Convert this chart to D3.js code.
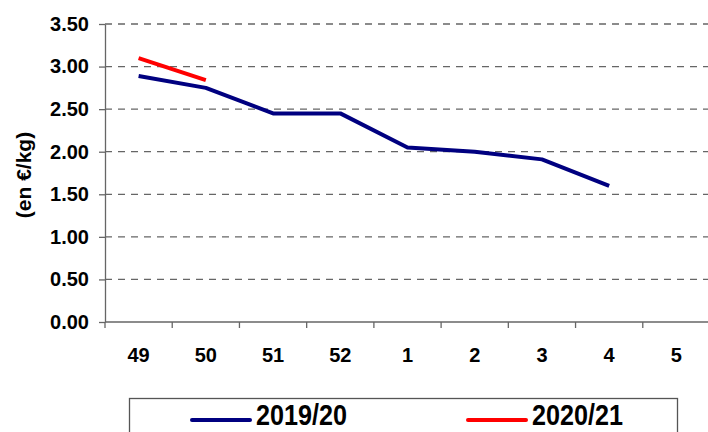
<!DOCTYPE html>
<html>
<head>
<meta charset="utf-8">
<script src="https://cdn.jsdelivr.net/npm/d3@7"></script>
<style>
  body { margin: 0; background: #fff; }
  text { font-family: "Liberation Sans", Arial, sans-serif; font-weight: bold; }
</style>
</head>
<body>
<svg id="drawing_region"></svg>
<script>
const weeks = ['49', '50', '51', '52', '1', '2', '3', '4', '5'];
const values_2019 = [2.89, 2.75, 2.45, 2.45, 2.05, 2.00, 1.91, 1.60];
const values_2020 = [3.10, 2.84];
const yticks = [0, 0.5, 1, 1.5, 2, 2.5, 3, 3.5];
const series_names = ['2019/20', '2020/21'];
const series_colors = ['#000080', '#ff0000'];

const config = {
    width: 708,
    height: 432,
    margin: {top: 24, right: -2, bottom: 110, left: 105}
};

const svg = d3.select('#drawing_region')
    .attr('width', config.width)
    .attr('height', config.height);

const chart = svg.append('g')
    .attr('transform', `translate(${config.margin.left}, ${config.margin.top})`);

const inner_width = config.width - config.margin.left - config.margin.right;
const inner_height = config.height - config.margin.top - config.margin.bottom;

const xscale = d3.scaleBand()
    .domain(weeks)
    .range([0, inner_width]);

const yscale = d3.scaleLinear()
    .domain([0, 3.5])
    .range([inner_height, 0]);

// dashed grid
chart.append('g')
    .selectAll('line')
    .data(yticks.filter(d => d > 0))
    .join('line')
    .attr('x1', 0)
    .attr('x2', inner_width)
    .attr('y1', d => yscale(d))
    .attr('y2', d => yscale(d))
    .attr('stroke', '#666')
    .attr('stroke-width', 1.3)
    .attr('stroke-dasharray', '7,6');

// y axis
const yaxis = d3.axisLeft(yscale)
    .tickValues(yticks)
    .tickFormat(d3.format('.2f'))
    .tickSize(6)
    .tickSizeOuter(0)
    .tickPadding(10);

const yaxis_group = chart.append('g').call(yaxis);
yaxis_group.select('.domain').attr('stroke', '#666').attr('stroke-width', 1.3);
yaxis_group.selectAll('.tick line').attr('stroke', '#666').attr('stroke-width', 1.3);
yaxis_group.selectAll('text')
    .attr('fill', '#000')
    .style('font-size', '20px')
    .style('font-family', '"Liberation Sans", Arial, sans-serif')
    .style('font-weight', 'bold');

// x axis: ticks at band boundaries, labels at band centres
const xaxis_group = chart.append('g')
    .attr('transform', `translate(0, ${inner_height})`);

xaxis_group.append('line')
    .attr('x1', 0)
    .attr('x2', inner_width)
    .attr('stroke', '#666')
    .attr('stroke-width', 1.3);

xaxis_group.selectAll('.xtick')
    .data(weeks)
    .join('line')
    .attr('class', 'xtick')
    .attr('x1', d => xscale(d))
    .attr('x2', d => xscale(d))
    .attr('y1', 0)
    .attr('y2', 6)
    .attr('stroke', '#666')
    .attr('stroke-width', 1.3);

xaxis_group.selectAll('.xlabel')
    .data(weeks)
    .join('text')
    .attr('class', 'xlabel')
    .attr('x', d => xscale(d) + xscale.bandwidth() / 2)
    .attr('y', 40)
    .attr('text-anchor', 'middle')
    .style('font-size', '20px')
    .text(d => d);

// y axis title
svg.append('text')
    .attr('transform', 'translate(31, 175) rotate(-90)')
    .attr('text-anchor', 'middle')
    .style('font-size', '21px')
    .text('(en €/kg)');

// lines
const line = d3.line()
    .x((d, i) => xscale(weeks[i]) + xscale.bandwidth() / 2)
    .y(d => yscale(d));

[values_2019, values_2020].forEach((vals, k) => {
    chart.append('path')
        .datum(vals)
        .attr('fill', 'none')
        .attr('stroke', series_colors[k])
        .attr('stroke-width', 4)
        .attr('stroke-linejoin', 'round')
        .attr('d', line);
});

// legend (box runs off the bottom edge, as in the original)
const legend = svg.append('g');
legend.append('rect')
    .attr('x', 129.5)
    .attr('y', 398.5)
    .attr('width', 548)
    .attr('height', 60)
    .attr('fill', '#fff')
    .attr('stroke', '#555')
    .attr('stroke-width', 1.3);

const legend_x = [192, 468];
series_names.forEach((name, k) => {
    legend.append('line')
        .attr('x1', legend_x[k])
        .attr('x2', legend_x[k] + 58)
        .attr('y1', 420)
        .attr('y2', 420)
        .attr('stroke', series_colors[k])
        .attr('stroke-width', 4)
        .attr('stroke-linecap', 'round');
    legend.append('g')
        .attr('transform', `translate(${legend_x[k] + 64}, 425) scale(0.84, 1)`)
        .append('text')
        .style('font-size', '30px')
        .text(name);
});
</script>
</body>
</html>
